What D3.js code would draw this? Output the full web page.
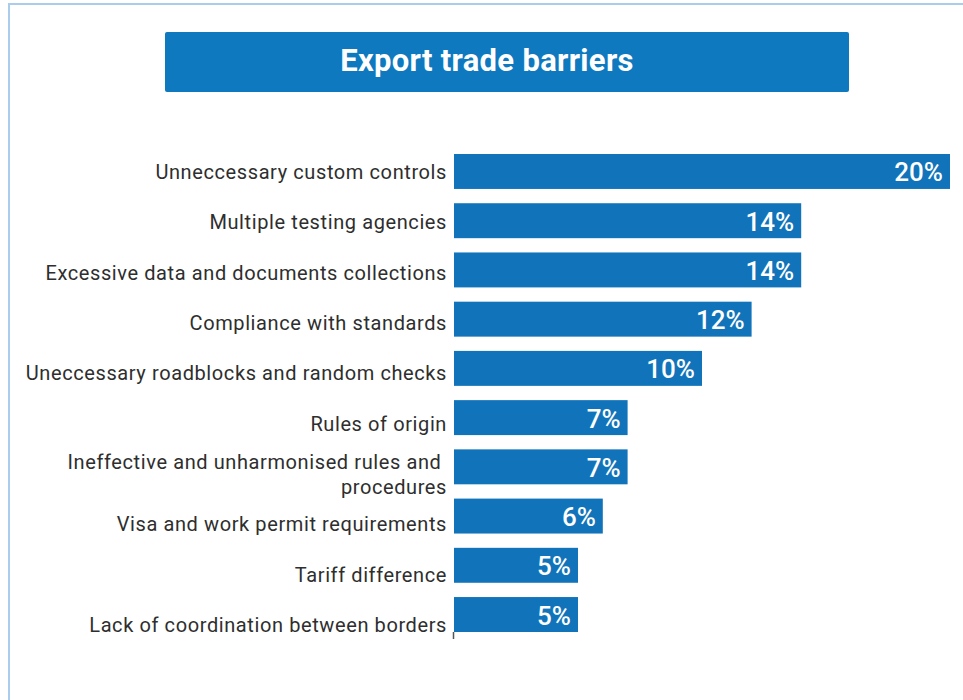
<!DOCTYPE html>
<html>
<head>
<meta charset="utf-8">
<script src="https://cdn.jsdelivr.net/npm/d3@7"></script>
<style>
  html, body { margin: 0; padding: 0; background: #ffffff; }
  svg { display: block; font-family: Roboto, "Noto Sans", Arial, sans-serif; }
</style>
</head>
<body>
<svg id="chart" width="963" height="700"></svg>
<script>
// Survey shares of reported export trade barriers (percent)
const title = "Export trade barriers";
const categories = [
  "Unneccessary custom controls",
  "Multiple testing agencies",
  "Excessive data and documents collections",
  "Compliance with standards",
  "Uneccessary roadblocks and random checks",
  "Rules of origin",
  "Ineffective and unharmonised rules and procedures",
  "Visa and work permit requirements",
  "Tariff difference",
  "Lack of coordination between borders"
];
const values = [20, 14, 14, 12, 10, 7, 7, 6, 5, 5];
// Category labels broken over lines where they wrap
const labelLines = [
  ["Unneccessary custom controls"],
  ["Multiple testing agencies"],
  ["Excessive data and documents collections"],
  ["Compliance with standards"],
  ["Uneccessary roadblocks and random checks"],
  ["Rules of origin"],
  ["Ineffective and unharmonised rules and ", "procedures"],
  ["Visa and work permit requirements"],
  ["Tariff difference"],
  ["Lack of coordination between borders"]
];

const svg = d3.select("#chart");
const blue = "#1174ba";

// Panel frame
svg.append("rect")
  .attr("x", 9).attr("y", 4)
  .attr("width", 970).attr("height", 720)
  .attr("fill", "none")
  .attr("stroke", "#a9cdeb")
  .attr("stroke-width", 2);

// Title banner
svg.append("rect")
  .attr("x", 165).attr("y", 32)
  .attr("width", 684).attr("height", 60)
  .attr("rx", 2)
  .attr("fill", "#0e79bf");
svg.append("text")
  .attr("x", 487).attr("y", 71)
  .attr("text-anchor", "middle")
  .attr("fill", "#ffffff")
  .attr("font-size", 31)
  .attr("font-weight", 700)
  .attr("letter-spacing", 0.3)
  .text(title);

// Scales
const x = d3.scaleLinear().domain([0, 20]).range([454, 950]);
const y = d3.scaleBand().domain(categories).range([154, 632]).paddingInner(0.29).paddingOuter(0);
const labelY = d3.scalePoint().domain(categories).range([179, 632]);

const data = categories.map((c, i) => ({ cat: c, value: values[i], lines: labelLines[i] }));

// Bars
svg.append("g").selectAll("rect")
  .data(data)
  .join("rect")
  .attr("x", x(0))
  .attr("y", d => y(d.cat))
  .attr("width", d => x(d.value) - x(0))
  .attr("height", y.bandwidth())
  .attr("fill", blue);

// Value labels inside bar ends
svg.append("g").selectAll("text")
  .data(data)
  .join("text")
  .attr("x", d => x(d.value) - 7)
  .attr("y", d => y(d.cat) + y.bandwidth() / 2 + 10)
  .attr("text-anchor", "end")
  .attr("fill", "#ffffff")
  .attr("font-size", 26)
  .attr("font-weight", 500)
  .text(d => d.value + "%");

// Category labels
const lineH = 25;
const labels = svg.append("g").selectAll("text")
  .data(data)
  .join("text")
  .attr("text-anchor", "end")
  .attr("fill", "#2e2e2e")
  .attr("font-size", 20)
  .attr("letter-spacing", 0.6)
  .attr("y", d => labelY(d.cat) - (d.lines.length - 1) * lineH / 2);
labels.selectAll("tspan")
  .data(d => d.lines)
  .join("tspan")
  .attr("x", 447)
  .attr("dy", (d, i) => i === 0 ? 0 : lineH)
  .attr("xml:space", "preserve")
  .text(d => d);

// Small axis tick at the baseline
svg.append("line")
  .attr("x1", x(0) - 0.5).attr("x2", x(0) - 0.5)
  .attr("y1", 632).attr("y2", 639)
  .attr("stroke", "#555555")
  .attr("stroke-width", 1.5);
</script>
</body>
</html>
